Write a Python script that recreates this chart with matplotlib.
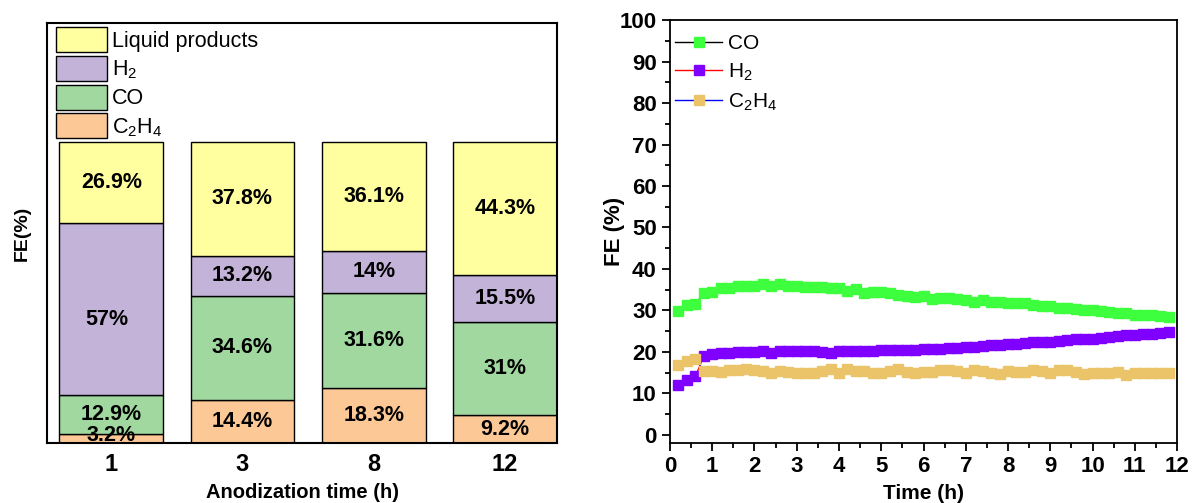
import matplotlib.pyplot as plt
import numpy as np

plt.rcParams['font.family'] = ['Liberation Sans', 'DejaVu Sans']
plt.rcParams['mathtext.fontset'] = 'custom'
plt.rcParams['mathtext.rm'] = 'Liberation Sans'
plt.rcParams['mathtext.bf'] = 'Liberation Sans:bold'

# left panel: FE distribution vs anodization time
anod_times = ['1', '3', '8', '12']
fe_c2h4 = [3.2, 14.4, 18.3, 9.2]
fe_co = [12.9, 34.6, 31.6, 31.0]
fe_h2 = [57.0, 13.2, 14.0, 15.5]
fe_liquid = [26.9, 37.8, 36.1, 44.3]
lbl_c2h4 = ['3.2%', '14.4%', '18.3%', '9.2%']
lbl_co = ['12.9%', '34.6%', '31.6%', '31%']
lbl_h2 = ['57%', '13.2%', '14%', '15.5%']
lbl_liquid = ['26.9%', '37.8%', '36.1%', '44.3%']

# right panel: stability test
time_h = [0.2, 0.4, 0.6, 0.8, 1.0, 1.2, 1.4, 1.6, 1.8, 2.0,
          2.2, 2.4, 2.6, 2.8, 3.0, 3.2, 3.4, 3.6, 3.8, 4.0,
          4.2, 4.4, 4.6, 4.8, 5.0, 5.2, 5.4, 5.6, 5.8, 6.0,
          6.2, 6.4, 6.6, 6.8, 7.0, 7.2, 7.4, 7.6, 7.8, 8.0,
          8.2, 8.4, 8.6, 8.8, 9.0, 9.2, 9.4, 9.6, 9.8, 10.0,
          10.2, 10.4, 10.6, 10.8, 11.0, 11.2, 11.4, 11.6, 11.8]
co_t = [29.8, 31.2, 31.6, 34.1, 34.5, 35.3, 35.5, 35.8, 36.0, 36.0,
        36.3, 35.9, 36.3, 36.0, 35.9, 35.7, 35.6, 35.6, 35.3, 35.3,
        34.7, 35.1, 34.1, 34.5, 34.5, 34.1, 33.7, 33.5, 33.3, 33.5,
        32.8, 33.1, 32.9, 32.7, 32.5, 32.1, 32.5, 32.1, 32.0, 31.8,
        31.7, 31.7, 31.4, 31.0, 31.0, 30.7, 30.5, 30.4, 30.2, 30.2,
        29.9, 29.7, 29.5, 29.4, 29.0, 29.0, 28.8, 28.6, 28.5]
h2_t = [12.0, 13.2, 14.1, 18.9, 19.4, 19.7, 19.8, 19.9, 20.0, 20.0,
        20.2, 19.8, 20.2, 20.1, 20.1, 20.1, 20.1, 20.0, 19.8, 20.2,
        20.1, 20.2, 20.2, 20.3, 20.4, 20.4, 20.5, 20.5, 20.5, 20.6,
        20.7, 20.8, 20.9, 21.0, 21.1, 21.3, 21.4, 21.6, 21.7, 21.8,
        22.0, 22.2, 22.3, 22.4, 22.5, 22.7, 22.8, 23.0, 23.1, 23.2,
        23.4, 23.6, 23.8, 24.0, 24.1, 24.3, 24.4, 24.5, 24.8]
c2h4_t = [16.9, 17.8, 18.4, 15.4, 15.4, 15.2, 15.6, 15.7, 15.8, 15.6,
          15.4, 15.0, 15.4, 15.2, 15.0, 15.0, 15.0, 15.4, 15.8, 15.0,
          15.8, 15.4, 15.3, 15.0, 15.0, 15.4, 15.8, 15.2, 15.0, 15.1,
          15.2, 15.6, 15.7, 15.3, 15.0, 15.6, 15.4, 15.0, 14.6, 15.3,
          15.2, 15.1, 15.6, 15.3, 15.0, 15.6, 15.6, 15.2, 14.6, 14.8,
          15.0, 15.0, 15.2, 14.4, 15.0, 15.0, 15.0, 15.0, 15.0]

c_liq = '#FFFFA0'
c_h2 = '#C3B3D8'
c_co = '#A0D8A0'
c_c2h4 = '#FCC896'

fig = plt.figure(figsize=(11.93, 5.03), dpi=100)

# ---- left: stacked bars ----
ax1 = fig.add_axes([0.0394, 0.119, 0.4278, 0.835])
x = np.arange(len(anod_times))
w = 0.79
layers = [(fe_c2h4, c_c2h4, lbl_c2h4, 'C$_2$H$_4$'),
          (fe_co, c_co, lbl_co, 'CO'),
          (fe_h2, c_h2, lbl_h2, 'H$_2$'),
          (fe_liquid, c_liq, lbl_liquid, 'Liquid products')]
bottom = np.zeros(len(x))
handles = []
for vals, col, lbls, name in layers:
    b = ax1.bar(x, vals, w, bottom=bottom, color=col, edgecolor='black',
                linewidth=1, label=name)
    handles.append(b)
    for xi, yb, v, t in zip(x, bottom, vals, lbls):
        yc = yb + v / 2
        xc = xi
        if v < 5:
            yc = yb + v / 2 + 0.8
        if v > 50:
            # the big H2 label sits a bit low in the original
            yc = yb + v * 0.44
            xc = xi - 0.03
        ax1.text(xc, yc, t, ha='center', va='center', fontsize=15.5,
                 fontweight='bold')
    bottom = bottom + np.array(vals)

ax1.set_xlim(-0.49, 3.40)
ax1.set_ylim(0, 139.5)
ax1.set_xticks(x)
ax1.set_xticklabels(anod_times, fontsize=17, fontweight='bold')
ax1.set_yticks([])
ax1.tick_params(axis='x', length=0, pad=7)
ax1.set_xlabel('Anodization time (h)', fontsize=14.5, fontweight='bold',
               labelpad=5)
ax1.set_ylabel('FE(%)', fontsize=14, fontweight='bold', labelpad=12)
for s in ax1.spines.values():
    s.set_linewidth(1.5)
ax1.legend(handles[::-1], [h.get_label() for h in handles[::-1]],
           loc='upper left', bbox_to_anchor=(0.017, 0.991),
           frameon=False, fontsize=15.5,
           handlelength=2.37, handleheight=1.4, handletextpad=0.25,
           labelspacing=0.18, borderaxespad=0, borderpad=0)

# ---- right: FE over time ----
ax2 = fig.add_axes([0.5616, 0.119, 0.4250, 0.841])
ax2.plot(time_h, co_t, '-', color='black', lw=1, marker='s', ms=7.5,
         mfc='#3DFF3D', mec='#3DFF3D', label='CO')
ax2.plot(time_h, h2_t, '-', color='red', lw=1, marker='s', ms=7.5,
         mfc='#7F00FF', mec='#7F00FF', label='H$_2$')
ax2.plot(time_h, c2h4_t, '-', color='blue', lw=1, marker='s', ms=7.5,
         mfc='#EBC46A', mec='#EBC46A', label='C$_2$H$_4$')
ax2.set_xlim(0, 12)
ax2.set_ylim(-2, 100)
ax2.set_xticks(np.arange(0, 13, 1))
ax2.set_xticks(np.arange(0.5, 12, 1), minor=True)
ax2.set_yticks(np.arange(0, 101, 10))
ax2.set_yticks(np.arange(5, 100, 10), minor=True)
ax2.tick_params(axis='both', which='major', labelsize=16, length=6,
                width=1.3, direction='out')
ax2.tick_params(axis='both', which='minor', length=3.5, width=1.3,
                direction='out')
for lab in ax2.get_xticklabels() + ax2.get_yticklabels():
    lab.set_fontweight('bold')
ax2.set_xlabel('Time (h)', fontsize=15, fontweight='bold', labelpad=5)
ax2.set_ylabel('FE (%)', fontsize=16, fontweight='bold', labelpad=-4)
for s in ax2.spines.values():
    s.set_linewidth(1.3)
ax2.legend(loc='upper left', bbox_to_anchor=(0.0099, 0.967),
           frameon=False, fontsize=15, handlelength=2.26,
           handletextpad=0.3, labelspacing=0.4, borderaxespad=0,
           borderpad=0)

fig.savefig('out.png', dpi=100)
